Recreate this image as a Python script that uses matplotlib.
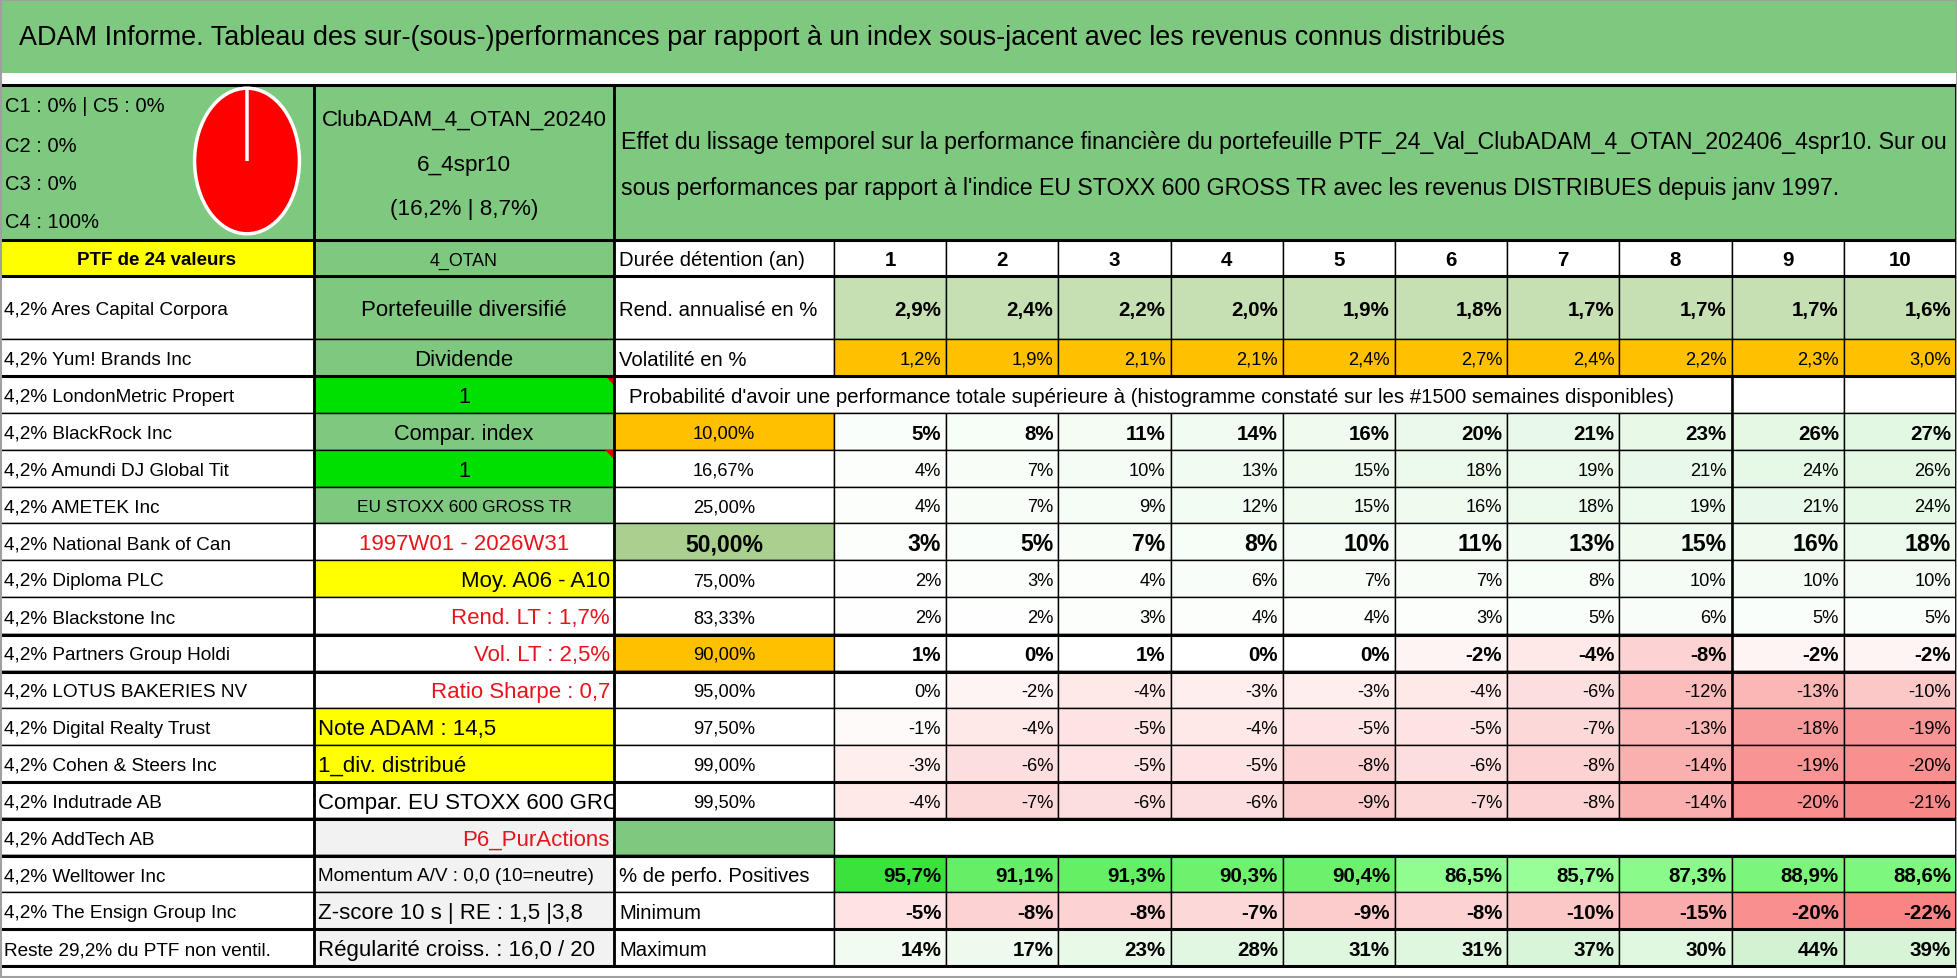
import matplotlib
matplotlib.use("Agg")
import matplotlib.pyplot as plt
from matplotlib.patches import Rectangle, Polygon
from matplotlib.colors import LinearSegmentedColormap, TwoSlopeNorm, Normalize
from matplotlib.transforms import Bbox, TransformedBbox

plt.rcParams['font.family'] = ['Liberation Sans', 'DejaVu Sans']

# ---- data ----
title = ("ADAM Informe. Tableau des sur-(sous-)performances par rapport à un index "
         "sous-jacent avec les revenus connus distribués")
header_lines = [
    "Effet du lissage temporel sur la performance financière du portefeuille "
    "PTF_24_Val_ClubADAM_4_OTAN_202406_4spr10. Sur ou",
    "sous performances par rapport à l'indice EU STOXX 600 GROSS TR avec les revenus "
    "DISTRIBUES depuis janv 1997.",
]
prob_label = ("Probabilité d'avoir une performance totale supérieure à (histogramme "
              "constaté sur les #1500 semaines disponibles)")

class_labels = ["C1 : 0% | C5 : 0%", "C2 : 0%", "C3 : 0%", "C4 : 100%"]
class_share = [0, 0, 0, 100, 0]          # C1..C5
ptf_name = ["ClubADAM_4_OTAN_20240", "6_4spr10", "(16,2% | 8,7%)"]
ptf_count = "PTF de 24 valeurs"
ptf_code = "4_OTAN"

holdings = [
    "4,2% Ares Capital Corpora", "4,2% Yum! Brands Inc", "4,2% LondonMetric Propert",
    "4,2% BlackRock Inc", "4,2% Amundi DJ Global Tit", "4,2% AMETEK Inc",
    "4,2% National Bank of Can", "4,2% Diploma PLC", "4,2% Blackstone Inc",
    "4,2% Partners Group Holdi", "4,2% LOTUS BAKERIES NV", "4,2% Digital Realty Trust",
    "4,2% Cohen & Steers Inc", "4,2% Indutrade AB", "4,2% AddTech AB",
    "4,2% Welltower Inc", "4,2% The Ensign Group Inc", "Reste 29,2% du PTF non ventil.",
]
side_labels = [
    "Portefeuille diversifié", "Dividende", "1", "Compar. index", "1",
    "EU STOXX 600 GROSS TR", "1997W01 - 2026W31", "Moy. A06 - A10", "Rend. LT : 1,7%",
    "Vol. LT : 2,5%", "Ratio Sharpe : 0,7", "Note ADAM : 14,5", "1_div. distribué",
    "Compar. EU STOXX 600 GROSS TR", "P6_PurActions", "Momentum A/V : 0,0 (10=neutre)",
    "Z-score 10 s | RE : 1,5 |3,8", "Régularité croiss. : 16,0 / 20",
]

years = [1, 2, 3, 4, 5, 6, 7, 8, 9, 10]
rend = [2.9, 2.4, 2.2, 2.0, 1.9, 1.8, 1.7, 1.7, 1.7, 1.6]
vol = [1.2, 1.9, 2.1, 2.1, 2.4, 2.7, 2.4, 2.2, 2.3, 3.0]
thresholds = [10.00, 16.67, 25.00, 50.00, 75.00, 83.33, 90.00, 95.00, 97.50, 99.00, 99.50]
prob = [
    [5, 8, 11, 14, 16, 20, 21, 23, 26, 27],
    [4, 7, 10, 13, 15, 18, 19, 21, 24, 26],
    [4, 7, 9, 12, 15, 16, 18, 19, 21, 24],
    [3, 5, 7, 8, 10, 11, 13, 15, 16, 18],
    [2, 3, 4, 6, 7, 7, 8, 10, 10, 10],
    [2, 2, 3, 4, 4, 3, 5, 6, 5, 5],
    [1, 0, 1, 0, 0, -2, -4, -8, -2, -2],
    [0, -2, -4, -3, -3, -4, -6, -12, -13, -10],
    [-1, -4, -5, -4, -5, -5, -7, -13, -18, -19],
    [-3, -6, -5, -5, -8, -6, -8, -14, -19, -20],
    [-4, -7, -6, -6, -9, -7, -8, -14, -20, -21],
]
pct_pos = [95.7, 91.1, 91.3, 90.3, 90.4, 86.5, 85.7, 87.3, 88.9, 88.6]
minimum = [-5, -8, -8, -7, -9, -8, -10, -15, -20, -22]
maximum = [14, 17, 23, 28, 31, 31, 37, 30, 44, 39]

# ---- styling ----
GREEN = '#7FC87F'
BRIGHT = '#00E000'
YELLOW = '#FFFF00'
ORANGE = '#FFC000'
MID = '#A9D08E'
REND_BG = '#C6E0B4'
GRAY = '#F2F2F2'
RED = '#E8141C'

side_fill = [GREEN, GREEN, BRIGHT, GREEN, BRIGHT, GREEN, 'white', YELLOW, 'white',
             'white', 'white', YELLOW, YELLOW, 'white', GRAY, GRAY, GRAY, GRAY]
side_color = ['black'] * 6 + [RED, 'black', RED, RED, RED, 'black', 'black', 'black',
                              RED, 'black', 'black', 'black']
side_align = ['center'] * 7 + ['right', 'right', 'right', 'right', 'left', 'left',
                               'left', 'right', 'left', 'left', 'left']
side_size = ['n', 'n', 'big', 'big', 'big', 'eu'] + ['n'] * 9 + ['small', 'n', 'n']

prob_cmap = LinearSegmentedColormap.from_list('prob', ['#F88484', '#FFFFFF', '#D2F3D2'])
prob_norm = TwoSlopeNorm(vmin=-22, vcenter=0, vmax=44)
pos_cmap = LinearSegmentedColormap.from_list('pos', ['#98FF98', '#3CE23C'])
pos_norm = Normalize(vmin=85.7, vmax=95.7)

W, H = 1958, 979
fig = plt.figure(figsize=(W / 100, H / 100), dpi=100)
ax = fig.add_axes([0, 0, 1, 1])
ax.set_xlim(0, W)
ax.set_ylim(H, 0)
ax.axis('off')
renderer = fig.canvas.get_renderer()


def fit(s, width, weight='normal'):
    t = ax.text(0, 0, s, fontsize=50, fontweight=weight)
    w = t.get_window_extent(renderer).width
    t.remove()
    return 50 * width / w


def box(x0, x1, y0, y1, fc='white', lw=1.0):
    ax.add_patch(Rectangle((x0, y0), x1 - x0, y1 - y0, facecolor=fc,
                           edgecolor='black', linewidth=lw, zorder=1))


def put(x0, x1, y0, y1, s, ha='center', size=13, weight='normal', color='black',
        pad=5, clip=False):
    x = {'left': x0 + pad, 'center': (x0 + x1) / 2, 'right': x1 - pad}[ha]
    t = ax.text(x, (y0 + y1) / 2 + 2, s, ha=ha, va='center', fontsize=size,
                fontweight=weight, color=color, zorder=3)
    if clip:
        t.set_clip_box(TransformedBbox(Bbox.from_extents(x0, y0, x1, y1), ax.transData))
        t.set_clip_on(True)
    return t


def pct(v, nd=0):
    return f"{v:.{nd}f}%".replace('.', ',')


# font sizes (fitted to the widths measured on the sheet, a little taller where room allows)
s_title = fit(title, 1485)
s_head = fit(header_lines[0], 1328)
s_prob = fit(prob_label, 1047)
s_cls = fit(class_labels[0], 160)
s_club = fit(ptf_name[0], 285)
s_A = fit(holdings[0], 225)
s_B = {'n': fit(side_labels[0], 205), 'big': fit("Compar. index", 140),
       'eu': fit(side_labels[5], 215), 'small': fit(side_labels[15], 276)}
s_C = fit("Rend. annualisé en %", 198)
s_T = fit("16,67%", 62)
s_bold = fit("95,7%", 58, 'bold')
s_50 = fit("50,00%", 78, 'bold')

# grid geometry
XA, XB, XC, XD, XR = 0, 314, 614, 834, 1956
cw = (XR - XD) / 10
dx = [XD + i * cw for i in range(11)]
step = (967 - 340) / 17
rows = [(277, 340)] + [(340 + i * step, 340 + (i + 1) * step) for i in range(17)]

# title bar
ax.add_patch(Rectangle((0, 0), W, 74, facecolor=GREEN, edgecolor='none', zorder=0))
ax.text(19, 38, title, ha='left', va='center', fontsize=s_title, zorder=3)

# header block
box(XA, XB, 86, 241, GREEN)
box(XB, XC, 86, 241, GREEN)
box(XC, XR, 86, 241, GREEN)
for s, y in zip(class_labels, [107, 146, 184, 222]):
    ax.text(5, y, s, ha='left', va='center', fontsize=s_cls, zorder=3)
for s, y in zip(ptf_name, [120, 165, 209]):
    ax.text((XB + XC) / 2, y, s, ha='center', va='center', fontsize=s_club, zorder=3)
for s, y in zip(header_lines, [143, 188]):
    ax.text(XC + 7, y, s, ha='left', va='center', fontsize=s_head, zorder=3)

pax = fig.add_axes([193 / W, 1 - 237 / H, 108 / W, 150 / H])
pax.pie(class_share, colors=['#4472C4', '#ED7D31', '#A5A5A5', '#FF0000', '#70AD47'],
        startangle=90, counterclock=False,
        wedgeprops=dict(edgecolor='white', linewidth=2.5))
pax.set_aspect('auto')
pax.set_xlim(-1.03, 1.03)
pax.set_ylim(-1.03, 1.03)
pax.axis('off')

# duration row
y0, y1 = 241, 277
box(XA, XB, y0, y1, YELLOW)
put(XA, XB, y0, y1, ptf_count, size=fit(ptf_count, 160, 'bold'), weight='bold')
box(XB, XC, y0, y1, GREEN)
put(XB, XC, y0, y1, ptf_code, size=fit(ptf_code, 68))
box(XC, XD, y0, y1)
put(XC, XD, y0, y1, "Durée détention (an)", ha='left', size=s_C)
for j, yr in enumerate(years):
    box(dx[j], dx[j + 1], y0, y1)
    put(dx[j], dx[j + 1], y0, y1, str(yr), size=s_bold, weight='bold')

# body rows
for i, (y0, y1) in enumerate(rows):
    box(XA, XB, y0, y1)
    put(XA, XB, y0, y1, holdings[i], ha='left', size=s_A, pad=4)
    box(XB, XC, y0, y1, side_fill[i])
    put(XB, XC, y0, y1, side_labels[i], ha=side_align[i], size=s_B[side_size[i]],
        color=side_color[i], pad=4, clip=True)
    if side_fill[i] == BRIGHT:
        ax.add_patch(Polygon([(XC - 9, y0), (XC, y0), (XC, y0 + 9)], closed=True,
                             facecolor='#E00000', edgecolor='none', zorder=2))

    if i == 0:
        box(XC, XD, y0, y1)
        put(XC, XD, y0, y1, "Rend. annualisé en %", ha='left', size=s_C)
        for j, v in enumerate(rend):
            box(dx[j], dx[j + 1], y0, y1, REND_BG)
            put(dx[j], dx[j + 1], y0, y1, pct(v, 1), ha='right', size=s_bold, weight='bold')
    elif i == 1:
        box(XC, XD, y0, y1)
        put(XC, XD, y0, y1, "Volatilité en %", ha='left', size=s_C)
        for j, v in enumerate(vol):
            box(dx[j], dx[j + 1], y0, y1, ORANGE)
            put(dx[j], dx[j + 1], y0, y1, pct(v, 1), ha='right', size=s_T)
    elif i == 2:
        box(XC, dx[8], y0, y1)
        put(XC, dx[8], y0, y1, prob_label, ha='left', size=s_prob, pad=15)
        for j in (8, 9):
            box(dx[j], dx[j + 1], y0, y1)
    elif 3 <= i <= 13:
        k = i - 3
        th = thresholds[k]
        fc = ORANGE if th in (10.0, 90.0) else (MID if th == 50.0 else 'white')
        strong = th in (10.0, 50.0, 90.0)
        size = s_50 if th == 50.0 else (s_bold if strong else s_T)
        box(XC, XD, y0, y1, fc)
        put(XC, XD, y0, y1, pct(th, 2), size=s_50 if th == 50.0 else s_T,
            weight='bold' if th == 50.0 else 'normal')
        for j, v in enumerate(prob[k]):
            box(dx[j], dx[j + 1], y0, y1, prob_cmap(prob_norm(v)))
            put(dx[j], dx[j + 1], y0, y1, pct(v), ha='right', size=size,
                weight='bold' if strong else 'normal')
    elif i == 14:
        box(XC, XD, y0, y1, GREEN)
    else:
        name, vals, cmap, norm, nd = [
            ("% de perfo. Positives", pct_pos, pos_cmap, pos_norm, 1),
            ("Minimum", minimum, prob_cmap, prob_norm, 0),
            ("Maximum", maximum, prob_cmap, prob_norm, 0),
        ][i - 15]
        box(XC, XD, y0, y1)
        put(XC, XD, y0, y1, name, ha='left', size=s_C)
        for j, v in enumerate(vals):
            box(dx[j], dx[j + 1], y0, y1, cmap(norm(v)))
            put(dx[j], dx[j + 1], y0, y1, pct(v, nd), ha='right', size=s_bold,
                weight='bold')

# heavier rules
for y in [86, 241, 277, 377, 636, 673, 783, 820, 857, 930, 967]:
    ax.plot([0, XR], [y, y], color='black', lw=2.2, zorder=2, solid_capstyle='butt')
for x in [XB, XC]:
    ax.plot([x, x], [86, 967], color='black', lw=2.0, zorder=2)
ax.plot([dx[8], dx[8]], [377, 820], color='black', lw=1.8, zorder=2)
ax.plot([XR, XR], [86, 967], color='black', lw=2.0, zorder=2)

# outer frame of the screenshot
ax.add_patch(Rectangle((0.5, 0.5), W - 1.5, H - 1.5, facecolor='none',
                       edgecolor='#A0A0A0', linewidth=1.5, zorder=4))

fig.savefig("out.png", dpi=100)
